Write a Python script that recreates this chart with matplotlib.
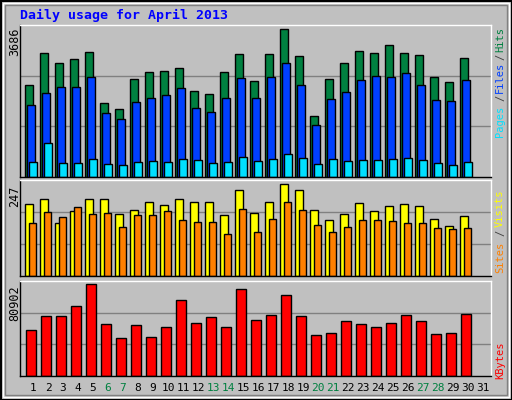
import matplotlib
matplotlib.use("Agg")
import matplotlib.pyplot as plt
from matplotlib.patches import Rectangle
import numpy as np

days = list(range(1, 32))
hits = [2285,3086,2835,2935,3111,1835,1685,2435,2610,2635,2710,2135,2060,2610,3060,
        2385,3060,3686,3010,1509,2435,2835,3135,3086,3286,3086,3035,2485,2360,2960]
files = [1785,2085,2235,2235,2485,1585,1434,1860,1960,2035,2210,1710,1610,1960,2460,
         1960,2485,2835,2285,1284,1935,2110,2410,2510,2485,2585,2285,1910,1885,2410]
pages = [384,859,359,359,459,334,309,384,409,384,459,434,359,384,509,
         409,459,584,484,334,459,409,434,434,459,484,434,359,309,384]
visits = [193,207,142,175,207,207,166,177,199,191,207,199,199,164,231,
          169,199,247,231,177,150,166,196,175,188,193,188,153,134,161]
sites = [142,172,158,185,166,169,132,164,164,175,150,145,145,113,180,
         118,153,199,177,137,118,132,150,150,148,142,142,129,126,129]
kbytes = [40155,52557,52557,61415,80902,45470,33069,44585,33955,42813,66729,46356,51671,42813,76473,
          49013,53442,71159,52557,35727,37498,48127,45470,42813,46356,53442,48127,36612,37498,54328]
weekend = {6, 7, 13, 14, 20, 21, 27, 28}

W, H = 512, 400
fig = plt.figure(figsize=(W/100, H/100), dpi=100)
fig.patch.set_facecolor("#C0C0C0")
fig.add_artist(Rectangle((0.5/W, 0.5/H), 1-1/W, 1-1/H, transform=fig.transFigure, fill=False, ec="black", lw=1.5))
fig.add_artist(Rectangle((3/W, 3/H), 1-6/W, 1-6/H, transform=fig.transFigure, fill=False, ec="white", lw=1))
fig.add_artist(Rectangle((5/W, 5/H), 1-10/W, 1-10/H, transform=fig.transFigure, fill=False, ec="#808080", lw=1))

def mk(top, bot):
    return fig.add_axes([20/W, 1-bot/H, (491-20)/W, (bot-top)/H])

x = np.arange(len(hits))
xl = (-0.353, 31.05)
ekw = dict(edgecolor="black", linewidth=1, align="edge")
mono = "DejaVu Sans Mono"

def style(ax, ymax):
    ax.set_facecolor("#C0C0C0")
    ax.set_xlim(*xl); ax.set_ylim(0, ymax)
    ax.set_xticks([]); ax.set_yticks([])
    for f in (1/3, 2/3):
        ax.axhline(ymax*f, color="#808080", lw=1, zorder=0)
    for s in ax.spines.values():
        s.set_color("black"); s.set_linewidth(1)
    ax.spines["top"].set_color("white"); ax.spines["right"].set_color("white")

ax1 = mk(25, 177)
style(ax1, 3686*152/148)
ax1.bar(x, hits, 0.49, color="#008040", **ekw)
ax1.bar(x+0.13, files, 0.51, color="#0040FF", **ekw)
ax1.bar(x+0.27, pages, 0.49, color="#00E0FF", **ekw)

ax2 = mk(180, 276.3)
style(ax2, 247*96/92)
ax2.bar(x, visits, 0.49, color="#FFFF00", **ekw)
ax2.bar(x+0.27, sites, 0.47, color="#FF8000", **ekw)

ax3 = mk(281, 375.7)
style(ax3, 80902*94.7/91.3)
ax3.bar(x+0.07, kbytes, 0.67, color="#FF0000", **ekw)

def ft(xp, yp, s, **kw):
    fig.text(xp/W, 1-yp/H, s, family=mono, **kw)

ft(20, 15, "Daily usage for April 2013", color="#0000FF", fontsize=9.5, weight="bold", va="center")
ft(15, 28, f"{max(hits)}", rotation=90, va="top", ha="center", fontsize=8.5)
ft(15, 186, f"{max(visits)}", rotation=90, va="top", ha="center", fontsize=8.5)
ft(15, 285, f"{max(kbytes)}", rotation=90, va="top", ha="center", fontsize=8.5)

for d in days:
    ft(25.3 + 15*(d-1) + 7.7, 388, str(d), ha="center", va="center", fontsize=8,
       color="#008040" if d in weekend else "black")

legend = [(121, "Pages", "#00E0FF"), (98, "/", "#404040"), (77, "Files", "#0040FF"),
          (57, "/", "#404040"), (39, "Hits", "#008040"),
          (257, "Sites", "#FF8000"), (233, "/", "#404040"), (208, "Visits", "#FFFF00"),
          (360, "KBytes", "#FF0000")]
for yp, s, c in legend:
    ft(500, yp, s, rotation=90, ha="center", va="center", fontsize=7.5, color=c)

fig.savefig("out.png", dpi=100, facecolor=fig.get_facecolor())
